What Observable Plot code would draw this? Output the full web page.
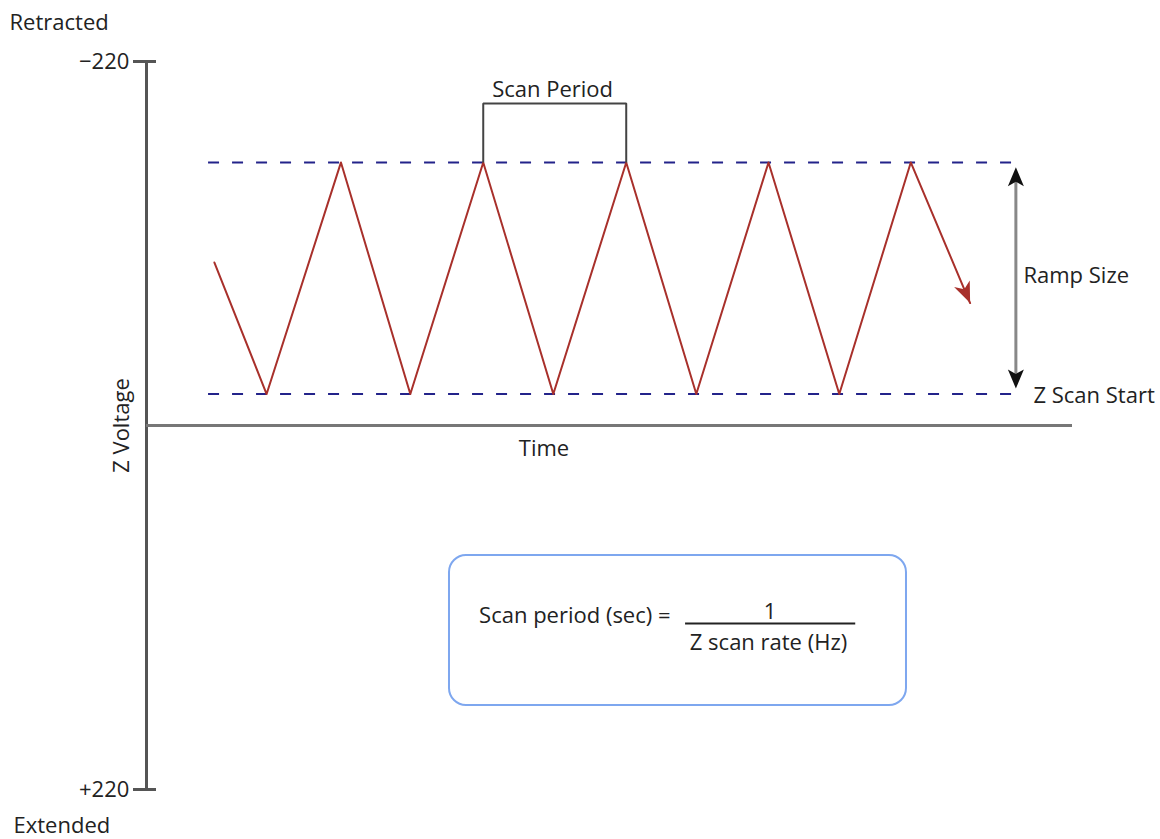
<!DOCTYPE html>
<html>
<head>
<meta charset="utf-8">
<script src="https://cdn.jsdelivr.net/npm/d3@7"></script>
<script src="https://cdn.jsdelivr.net/npm/@observablehq/plot@0.6"></script>
<style>
  body { margin: 0; background: #fff; }
  svg { display: block; }
</style>
</head>
<body>
<div id="chart"></div>
<script>
// ---- data (time in scan periods, Z voltage) ----
const waveTime = [0.475, 0.84, 1.36, 1.845, 2.355, 2.845, 3.355, 3.845, 4.35, 4.845, 5.345, 5.76];
const waveZ    = [-98.5, -19, -159, -19, -159, -19, -159, -19, -159, -19, -159, -74];
const rampTop = -159;     // top of ramp (dashed line)
const scanStart = -19;    // Z scan start (dashed line)
const yTicks = [-220, 220];
const timeMax = 6.476;
const periodStart = 2.355, periodEnd = 3.355;

const wave = waveTime.map((t, i) => ({t, z: waveZ[i]}));
const tip = wave[wave.length - 1];

const font = "'Open Sans', 'DejaVu Sans', sans-serif";
const fs = 22;
const txt = "#222";

// arrowhead symbols, tip at origin, pointing up
const arrowHead = {
  draw(ctx) {
    ctx.moveTo(0, 0);
    ctx.lineTo(8, 19);
    ctx.lineTo(0, 14.5);
    ctx.lineTo(-8, 19);
    ctx.closePath();
  }
};
const redHead = {
  draw(ctx) {
    ctx.moveTo(0, 0);
    ctx.lineTo(8.5, 21);
    ctx.lineTo(0, 15);
    ctx.lineTo(-8.5, 21);
    ctx.closePath();
  }
};

const label = (s, opts) => Plot.text([s], {text: d => d, fontFamily: font, fontSize: fs, fill: txt, ...opts});

const chart = Plot.plot({
  width: 1160,
  height: 839,
  marginLeft: 146,
  marginRight: 88,
  marginTop: 61,
  marginBottom: 50,
  style: {background: "#fff", fontFamily: font},
  x: {domain: [0, timeMax], axis: null},
  y: {domain: [-220, 220], reverse: true, axis: null},
  marks: [
    // axes
    Plot.ruleX([0], {y1: -220, y2: 220, stroke: "#555", strokeWidth: 3}),
    Plot.ruleY([0], {x1: 0, x2: timeMax, stroke: "#777", strokeWidth: 3}),
    Plot.ruleY(yTicks, {x1: -0.091, x2: 0.07, stroke: "#555", strokeWidth: 3}),
    Plot.text(yTicks, {x: -0.12, y: d => d, text: d => (d > 0 ? "+" : "\u2212") + Math.abs(d),
      textAnchor: "end", fontFamily: font, fontSize: fs, fill: txt}),
    label("Retracted", {x: -0.958, y: -243, textAnchor: "start"}),
    label("Extended", {x: -0.93, y: 242, textAnchor: "start"}),
    label("Z Voltage", {x: -0.171, y: 0, rotate: -90}),
    label("Time", {x: 2.78, y: 14.3}),

    // dashed reference lines
    Plot.ruleY([rampTop, scanStart], {x1: 0.434, x2: 6.13, stroke: "#23238a", strokeWidth: 2, strokeDasharray: "11,13"}),

    // triangle wave
    Plot.line(wave, {x: "t", y: "z", stroke: "#a8302b", strokeWidth: 2}),
    Plot.dot([tip], {x: "t", y: "z", symbol: redHead, r: 5, fill: "#a8302b", stroke: "none", rotate: 157}),

    // scan period bracket
    Plot.line([{t: periodStart, z: rampTop}, {t: periodStart, z: -194.6}, {t: periodEnd, z: -194.6}, {t: periodEnd, z: rampTop}],
      {x: "t", y: "z", stroke: "#444", strokeWidth: 2, strokeLinejoin: "miter", strokeLinecap: "butt"}),
    label("Scan Period", {x: 2.84, y: -202.7}),

    // ramp size arrow
    Plot.ruleX([6.08], {y1: rampTop + 8, y2: scanStart - 8, stroke: "#888", strokeWidth: 3}),
    Plot.dot([{t: 6.08, z: -156.1, a: 0}, {t: 6.08, z: -22.4, a: 180}], {x: "t", y: "z", rotate: "a", symbol: arrowHead, r: 5, fill: "#111", stroke: "none"}),
    label("Ramp Size", {x: 6.133, y: -90.3, textAnchor: "start"}),
    label("Z Scan Start", {x: 6.203, y: -17.8, textAnchor: "start"}),

    // formula box
    Plot.rect([0], {x1: 2.119, x2: 5.315, y1: 78.6, y2: 169.2, rx: 17, fill: "none", stroke: "#7ea7ef", strokeWidth: 2}),
    label("Scan period (sec) =", {x: 2.326, y: 115.2, textAnchor: "start"}),
    label("1", {x: 4.36, y: 112.4}),
    Plot.ruleY([119.7], {x1: 3.77, x2: 4.96, stroke: "#222", strokeWidth: 2}),
    label("Z scan rate (Hz)", {x: 4.35, y: 131.5})
  ]
});

document.getElementById("chart").appendChild(chart);
</script>
</body>
</html>
